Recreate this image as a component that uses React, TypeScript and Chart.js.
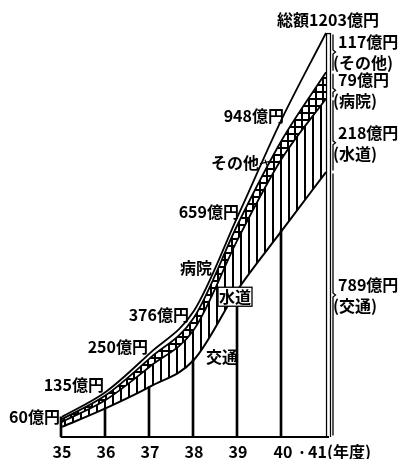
import React, { useEffect, useRef } from 'react';
import { Chart, registerables } from 'chart.js';

Chart.register(...registerables);

// ---- data (億円) ----
const years = ['35', '36', '37', '38', '39', '40', '41'];
const transport = [30, 86, 150, 230, 440, 615, 789]; // 交通
const water = [15, 25, 60, 90, 150, 215, 218]; // 水道
const hospital = [8, 14, 25, 36, 45, 55, 79]; // 病院
const others = [7, 10, 15, 20, 24, 63, 117]; // その他
const totals = [60, 135, 250, 376, 659, 948, 1203];
const unitLabel = '(年度)';

const FONT = '"Noto Sans CJK JP", "Noto Sans CJK SC", sans-serif';

function makeVPattern(ctx: CanvasRenderingContext2D) {
  const c = document.createElement('canvas');
  c.width = 8;
  c.height = 8;
  const g = c.getContext('2d')!;
  g.fillStyle = '#fff';
  g.fillRect(0, 0, 8, 8);
  g.fillStyle = '#000';
  g.fillRect(0, 0, 2, 8);
  return ctx.createPattern(c, 'repeat');
}

function makeGridPattern(ctx: CanvasRenderingContext2D) {
  const c = document.createElement('canvas');
  c.width = 7;
  c.height = 7;
  const g = c.getContext('2d')!;
  g.fillStyle = '#000';
  g.fillRect(0, 0, 7, 7);
  g.fillStyle = '#fff';
  g.fillRect(2, 2, 5, 5);
  return ctx.createPattern(c, 'repeat');
}

const annotPlugin = {
  id: 'annot',
  afterDraw(chart: any) {
    const { ctx } = chart;
    const xs = chart.scales.x;
    const ys = chart.scales.y;
    const px = (i: number) => xs.getPixelForValue(i);
    const py = (v: number) => ys.getPixelForValue(v);
    const last = years.length - 1;
    ctx.save();
    ctx.fillStyle = '#000';
    ctx.strokeStyle = '#000';

    // baseline
    ctx.lineWidth = 2;
    ctx.beginPath();
    ctx.moveTo(px(0) - 1, py(0));
    ctx.lineTo(px(last) + 3, py(0));
    ctx.stroke();

    ctx.font = `bold 16px ${FONT}`;
    ctx.textBaseline = 'middle';

    // x labels
    ctx.textAlign = 'center';
    for (let i = 0; i < last; i++) {
      ctx.fillText(years[i], px(i) + (i === last - 1 ? 1 : 0), py(0) + 15);
    }
    ctx.fillText('·', (px(last - 1) + px(last)) / 2 - 2, py(0) + 15);
    ctx.textAlign = 'left';
    ctx.fillText(years[last] + unitLabel, px(last) - 18, py(0) + 15);

    // total labels
    const offs: [number, number, CanvasTextAlign][] = [
      [-2, 0, 'right'],
      [-2, -7, 'right'],
      [-2, -6, 'right'],
      [-5, 4, 'right'],
      [1, -4, 'right'],
      [2, -3, 'right'],
      [2, -13, 'center'],
    ];
    totals.forEach((t, i) => {
      const [dx, dy, al] = offs[i];
      ctx.textAlign = al;
      const txt = i === last ? `総額${t}億円` : `${t}億円`;
      ctx.fillText(txt, px(i) + dx, py(t) + dy);
    });

    // right side breakdown with braces
    const c0 = transport[last];
    const c1 = c0 + water[last];
    const c2 = c1 + hospital[last];
    const c3 = c2 + others[last];
    const bands: [number, number, string, string, number][] = [
      [c2, c3, `${others[last]}億円`, '(その他)', py(c3) + 9],
      [c1, c2, `${hospital[last]}億円`, '(病院)', py(c2) + 8],
      [c0, c1, `${water[last]}億円`, '(水道)', py(c1) + 34],
      [0, c0, `${transport[last]}億円`, '(交通)', py(c0) + 113],
    ];
    const bx = px(last) + 7;
    ctx.lineWidth = 1.3;
    bands.forEach(([lo, hi, l1, l2, ty]) => {
      ctx.textAlign = 'left';
      ctx.fillText(l1, px(last) + 12, ty);
      ctx.fillText(l2, px(last) + 7, ty + 21);
      const top = py(hi) + 1.5;
      const bot = py(lo) - 1.5;
      const mid = ty + 10;
      ctx.beginPath();
      ctx.moveTo(bx, top);
      ctx.lineTo(bx, mid - 2);
      ctx.lineTo(bx + 2.5, mid);
      ctx.lineTo(bx, mid + 2);
      ctx.lineTo(bx, bot);
      ctx.stroke();
    });

    // in-chart labels
    ctx.textAlign = 'right';
    ctx.fillText('その他', px(5) - 23, py(totals[5]) + 44);
    ctx.lineWidth = 1.2;
    ctx.beginPath();
    ctx.moveTo(px(5) - 22, py(totals[5]) + 45);
    ctx.lineTo(px(5) - 13, py(totals[5]) + 43);
    ctx.moveTo(px(5) - 17, py(totals[5]) + 41);
    ctx.lineTo(px(5) - 15, py(totals[5]) + 47);
    ctx.stroke();

    ctx.fillText('病院', px(4) - 26, py(totals[4]) + 52);

    // boxed 水道
    const wx = px(4) - 3;
    const wy = py(transport[4]) + 8;
    ctx.fillStyle = '#fff';
    ctx.fillRect(wx - 17, wy - 10, 34, 19);
    ctx.strokeStyle = '#000';
    ctx.lineWidth = 1.3;
    ctx.strokeRect(wx - 17, wy - 10, 34, 19);
    ctx.fillStyle = '#000';
    ctx.textAlign = 'center';
    ctx.fillText('水道', wx, wy);

    ctx.fillText('交通', px(4) - 16, py(transport[3]) - 3);

    ctx.restore();
  },
};

export default function App() {
  const ref = useRef<HTMLCanvasElement | null>(null);

  useEffect(() => {
    const canvas = ref.current!;
    const ctx = canvas.getContext('2d')!;
    const vpat = makeVPattern(ctx);
    const gpat = makeGridPattern(ctx);
    const last = years.length - 1;

    const vlines = years.map((_, i) => (i === 0 ? totals[0] : i === last ? null : transport[i]));
    const edge = years.map((_, i) => (i === last ? totals[last] : null));

    const lineBase = {
      type: 'line' as const,
      borderColor: '#000',
      borderWidth: 1.8,
      pointRadius: 0,
      cubicInterpolationMode: 'monotone' as const,
      clip: false as const,
    };

    const chart = new Chart(canvas, {
      type: 'line',
      data: {
        labels: years,
        datasets: [
          { ...lineBase, label: '交通', data: transport, fill: 'origin', backgroundColor: 'rgba(0,0,0,0)', borderWidth: 2 },
          { ...lineBase, label: '水道', data: water, fill: '-1', backgroundColor: vpat as any },
          { ...lineBase, label: '病院', data: hospital, fill: '-1', backgroundColor: gpat as any },
          { ...lineBase, label: 'その他', data: others, fill: '-1', backgroundColor: '#fff' },
          {
            type: 'bar',
            label: 'v',
            data: vlines as any,
            backgroundColor: '#000',
            barThickness: 2,
            stack: 'v',
            order: -1,
            clip: false as any,
          } as any,
          {
            type: 'bar',
            label: 'edge',
            data: edge as any,
            backgroundColor: '#fff',
            borderColor: '#000',
            borderWidth: { left: 1.5, right: 1.5, top: 1.5, bottom: 0 },
            borderSkipped: 'bottom',
            barThickness: 5,
            stack: 'e',
            order: -1,
            clip: false as any,
          } as any,
        ],
      },
      options: {
        animation: false,
        responsive: false,
        devicePixelRatio: 1,
        layout: { padding: { left: 62, right: 74, top: 33, bottom: 22 } },
        plugins: { legend: { display: false }, tooltip: { enabled: false } },
        scales: {
          x: { type: 'category', display: false, offset: false },
          y: { display: false, stacked: true, min: 0, max: totals[last] },
        },
      },
      plugins: [annotPlugin],
    });
    return () => chart.destroy();
  }, []);

  return (
    <div style={{ position: 'absolute', left: 0, top: 0, width: 400, height: 459, background: '#fff' }}>
      <canvas ref={ref} width={400} height={459} style={{ display: 'block', width: 400, height: 459 }} />
    </div>
  );
}
